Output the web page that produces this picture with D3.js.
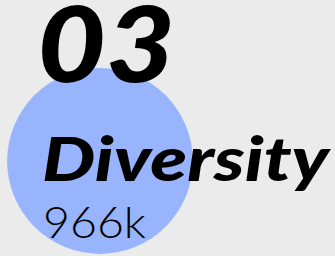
<!DOCTYPE html>
<html lang="en">
<head>
<meta charset="utf-8">
<title>Diversity card</title>
<script src="https://d3js.org/d3.v7.min.js"></script>
<style>
body { margin: 0; background: #ebebeb; }
svg { display: block; }
.big { font-family: "Lato", sans-serif; font-weight: 900; font-style: italic; }
.val { font-family: "Lato", sans-serif; font-weight: 300; }
</style>
</head>
<body>
<script>
// card content
const indexLabel = ["03"];
const categories = ["Diversity"];
const values = [966];          // thousands
const maxValue = 1000;

const width = 335, height = 256;

const svg = d3.select("body").append("svg")
    .attr("width", width)
    .attr("height", height);

svg.append("rect").attr("width", width).attr("height", height).attr("fill", "#ebebeb");

// circle radius grows with the value (area scale)
const r = d3.scaleSqrt().domain([0, maxValue]).range([0, 94.5]);

svg.selectAll("circle")
  .data(values)
  .join("circle")
    .attr("cx", 100)
    .attr("cy", 161)
    .attr("r", d => r(d))
    .attr("fill", "#98b4fd");

svg.append("text")
    .attr("class", "big")
    .attr("x", 37)
    .attr("y", 82)
    .attr("font-size", 104)
    .attr("textLength", 138)
    .attr("lengthAdjust", "spacingAndGlyphs")
    .text(indexLabel[0]);

svg.append("text")
    .attr("class", "big")
    .attr("x", 42)
    .attr("y", 181)
    .attr("font-size", 60)
    .attr("textLength", 287)
    .attr("lengthAdjust", "spacingAndGlyphs")
    .text(categories[0]);

svg.append("text")
    .attr("class", "val")
    .attr("x", 43)
    .attr("y", 238)
    .attr("font-size", 43)
    .attr("textLength", 103)
    .attr("lengthAdjust", "spacingAndGlyphs")
    .text(d3.format("d")(values[0]) + "k");
</script>
</body>
</html>
